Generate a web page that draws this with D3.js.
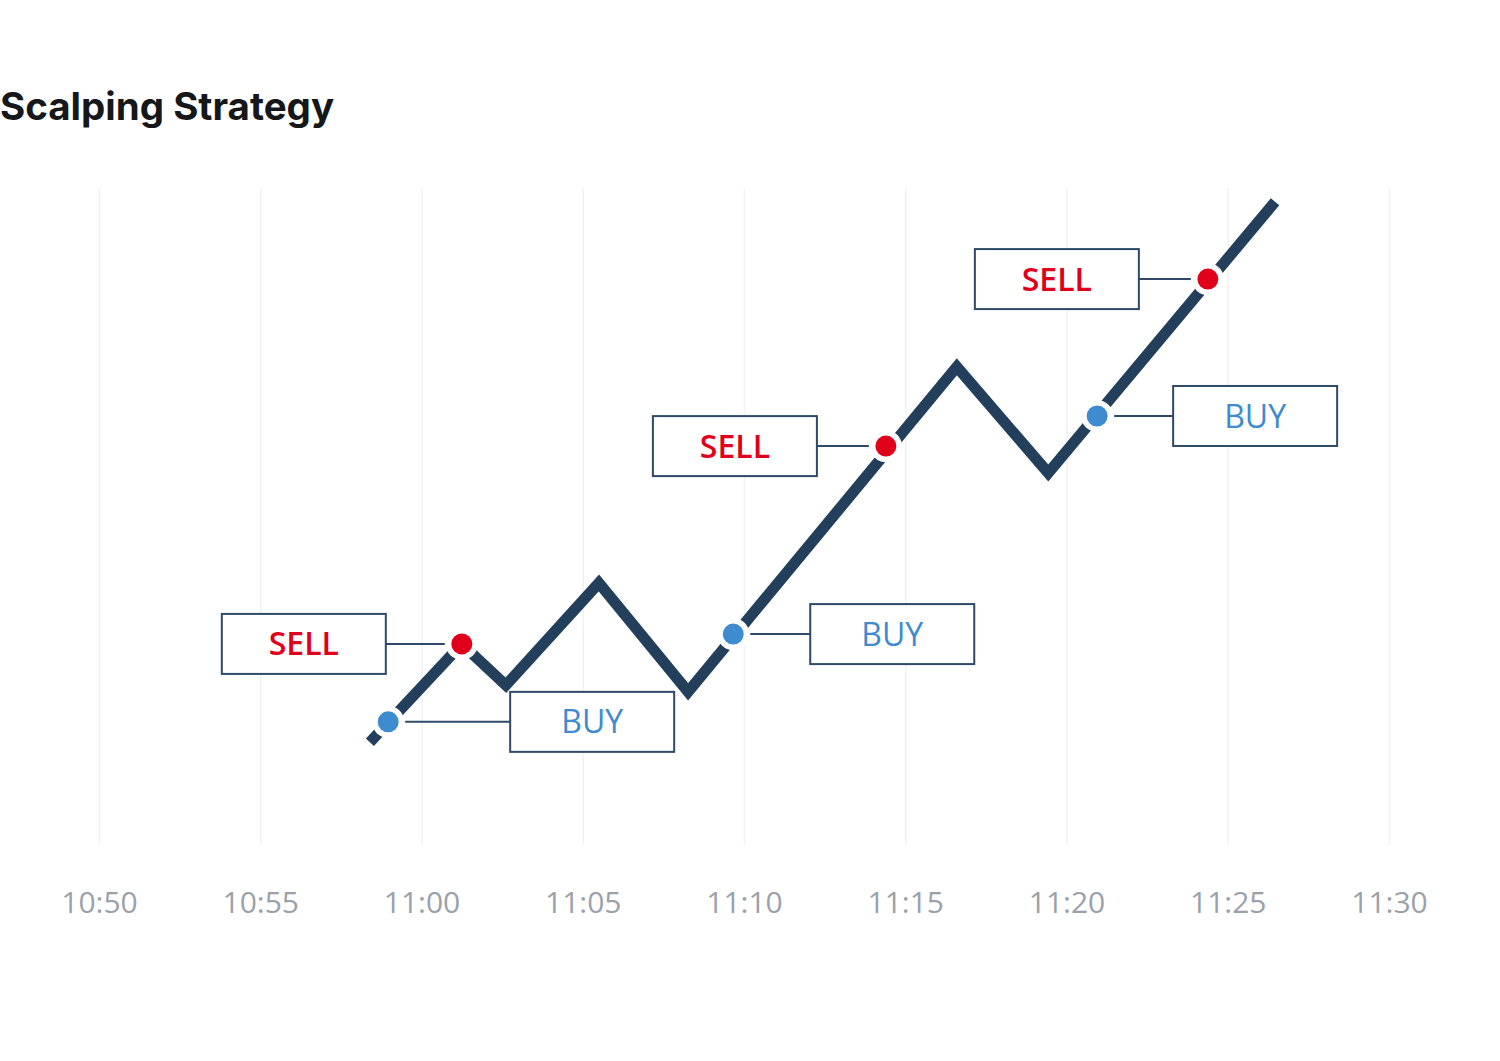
<!DOCTYPE html>
<html>
<head>
<meta charset="utf-8">
<script src="https://cdn.jsdelivr.net/npm/d3@7"></script>
<style>
  html, body { margin: 0; padding: 0; background: #ffffff; }
  svg { display: block; }
</style>
</head>
<body>
<div id="chart"></div>
<script>
// price path (turning points)
const pathTimes = ["10:58:24", "11:01:15", "11:02:37", "11:05:30", "11:08:16", "11:16:36", "11:19:26", "11:26:28"];
const pathPrices = [15.7, 30.7, 24.4, 40.0, 23.4, 73.0, 56.8, 98.2];

// trade signals
const signalTypes = ["BUY", "SELL", "BUY", "SELL", "BUY", "SELL"];
const signalTimes = ["10:58:58", "11:01:15", "11:09:40", "11:14:24", "11:20:57", "11:24:23"];
const signalPrices = [18.8, 30.7, 32.2, 60.9, 65.5, 86.4];

// x axis
const axisStart = "10:50:00";
const axisEnd = "11:30:00";
const tickMinutes = 5;

const width = 1500, height = 1061;
const plot = { left: 99, right: 1389, top: 188, bottom: 845 };

// label layout: which side of the dot the box sits and how far away
const labelLayout = [
  { side: "right", gap: 122 },
  { side: "left", gap: 76 },
  { side: "right", gap: 77 },
  { side: "left", gap: 69 },
  { side: "right", gap: 76 },
  { side: "left", gap: 69 },
];
const box = { w: 164, h: 60 };

const colors = {
  line: "#243f5c",
  frame: "#2e4a66",
  grid: "#f1f2f4",
  tick: "#9ba1a9",
  SELL: "#e0001b",
  BUY: "#3f8bd0",
};

const parseTime = d3.timeParse("%H:%M:%S");

const x = d3.scaleTime()
  .domain([parseTime(axisStart), parseTime(axisEnd)])
  .range([plot.left, plot.right]);

const y = d3.scaleLinear()
  .domain([0, 100])
  .range([plot.bottom, plot.top + 2]);

const svg = d3.select("#chart")
  .append("svg")
  .attr("width", width)
  .attr("height", height);

// title
svg.append("text")
  .attr("x", 0)
  .attr("y", 120)
  .attr("font-family", "Inter, 'Noto Sans', sans-serif")
  .attr("font-weight", 700)
  .attr("font-size", 38.5)
  .attr("fill", "#15171a")
  .text("Scalping Strategy");

// axis + vertical grid
const xAxis = d3.axisBottom(x)
  .ticks(d3.timeMinute.every(tickMinutes))
  .tickFormat(d3.timeFormat("%H:%M"))
  .tickSize(-(plot.bottom - plot.top))
  .tickPadding(47);

const axisG = svg.append("g")
  .attr("transform", `translate(0, ${plot.bottom})`)
  .call(xAxis);

axisG.select(".domain").remove();
axisG.selectAll(".tick line")
  .attr("stroke", colors.grid)
  .attr("stroke-width", 1.5);
axisG.selectAll(".tick text")
  .attr("fill", colors.tick)
  .attr("font-family", "'Open Sans', 'Noto Sans', sans-serif")
  .attr("font-weight", 400)
  .attr("font-size", 30);

// price line
const pathData = pathTimes.map((t, i) => ({ t: parseTime(t), p: pathPrices[i] }));

const line = d3.line()
  .x(d => x(d.t))
  .y(d => y(d.p));

svg.append("path")
  .datum(pathData)
  .attr("d", line)
  .attr("fill", "none")
  .attr("stroke", colors.line)
  .attr("stroke-width", 11)
  .attr("stroke-linejoin", "miter")
  .attr("stroke-linecap", "butt");

// signals
const signals = signalTypes.map((type, i) => ({
  type: type,
  t: parseTime(signalTimes[i]),
  p: signalPrices[i],
  layout: labelLayout[i],
}));

const sig = svg.append("g")
  .selectAll("g.signal")
  .data(signals)
  .join("g")
  .attr("class", "signal")
  .attr("transform", d => `translate(${x(d.t)}, ${y(d.p)})`);

// connector line
sig.append("line")
  .attr("x1", d => (d.layout.side === "right" ? 17 : -17))
  .attr("x2", d => (d.layout.side === "right" ? d.layout.gap : -d.layout.gap))
  .attr("y1", 0)
  .attr("y2", 0)
  .attr("stroke", colors.frame)
  .attr("stroke-width", 2);

// white halo, then the dot
sig.append("circle")
  .attr("r", 16)
  .attr("fill", "#ffffff");

sig.append("circle")
  .attr("r", 10.5)
  .attr("fill", d => colors[d.type]);

// label box
const boxX = d => (d.layout.side === "right" ? d.layout.gap : -d.layout.gap - box.w);

sig.append("rect")
  .attr("x", boxX)
  .attr("y", -box.h / 2)
  .attr("width", box.w)
  .attr("height", box.h)
  .attr("fill", "#ffffff")
  .attr("stroke", colors.frame)
  .attr("stroke-width", 2);

sig.append("text")
  .attr("x", d => boxX(d) + box.w / 2)
  .attr("y", 0)
  .attr("dy", "0.36em")
  .attr("text-anchor", "middle")
  .attr("font-family", "'Open Sans', 'Noto Sans', sans-serif")
  .attr("font-size", 32)
  .attr("font-weight", d => (d.type === "SELL" ? 600 : 500))
  .attr("fill", d => colors[d.type])
  .text(d => d.type);
</script>
</body>
</html>
